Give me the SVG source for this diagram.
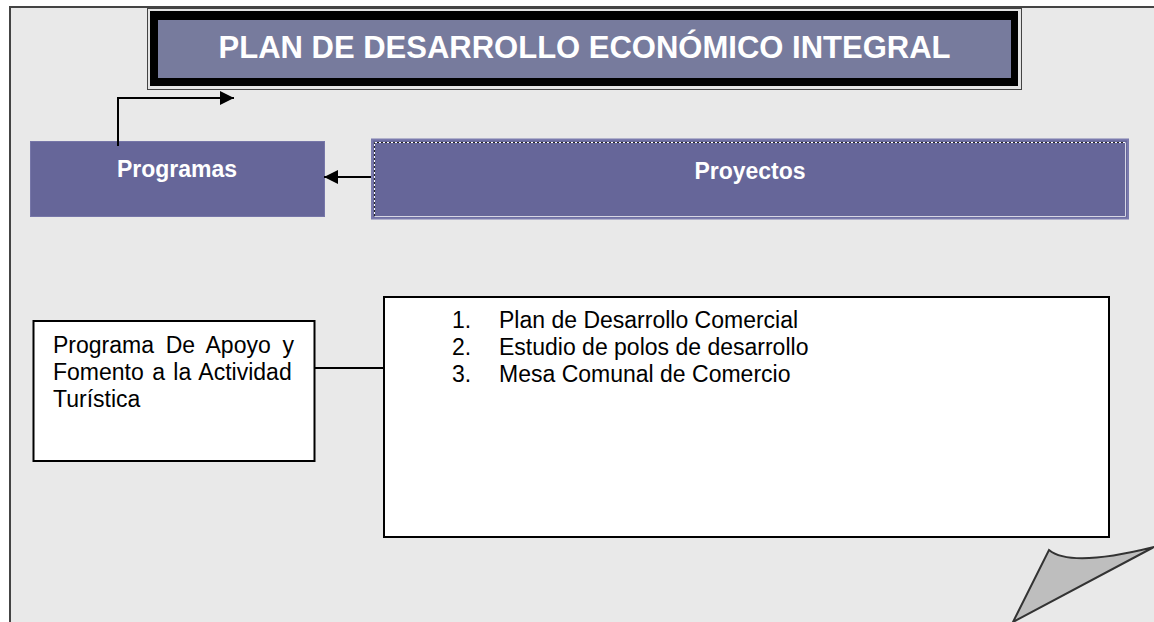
<svg xmlns="http://www.w3.org/2000/svg" width="1154" height="622" viewBox="0 0 1154 622">
  <defs>
    <style>
      .t { font-family: "Liberation Sans", Arial, sans-serif; }
      .wb { fill: #ffffff; font-weight: bold; }
      .body { fill: #000000; font-size: 23px; }
      .box { fill: #ffffff; stroke: #000000; stroke-width: 2; }
      .hdr { fill: #666699; }
      .conn { fill: none; stroke: #000000; stroke-width: 2; }
    </style>
    <marker id="ah" markerWidth="14" markerHeight="14" refX="14" refY="7" orient="auto" markerUnits="userSpaceOnUse">
      <path d="M0,0 L14,7 L0,14 Z" fill="#000000"/>
    </marker>
  </defs>

  <rect width="1154" height="622" fill="#ffffff"/>

  <!-- page -->
  <g id="page">
    <path d="M10,7 H1154 V622 H10 Z" fill="#e9e9e9"/>
    <path d="M10,622 V7 H1154" fill="none" stroke="#444444" stroke-width="2"/>
    <path d="M1049,550 C1066,564 1110,558 1154,547 L1013,622 Z" fill="#bebebe" stroke="#333333" stroke-width="2" stroke-linejoin="miter"/>
  </g>

  <!-- title -->
  <g id="title">
    <rect x="147.5" y="8.5" width="874" height="81" fill="#e4e4e4" stroke="#444444" stroke-width="1"/>
    <rect x="150" y="11" width="868" height="75" fill="#000000"/>
    <rect x="158" y="20" width="853" height="58" fill="#777b9d"/>
    <text class="t wb" x="584.5" y="58" font-size="31" text-anchor="middle">PLAN DE DESARROLLO ECONÓMICO INTEGRAL</text>
  </g>

  <!-- Programas header -->
  <g id="programas">
    <rect class="hdr" x="30.5" y="141.5" width="294" height="75" stroke="#7676a8" stroke-width="1"/>
    <text class="t wb" x="177" y="177" font-size="23" text-anchor="middle">Programas</text>
  </g>

  <!-- Proyectos header -->
  <g id="proyectos">
    <rect class="hdr" x="372" y="139.5" width="756" height="79" stroke="#7a7aad" stroke-width="2"/>
    <path d="M374.5,216 V142.5 H1125" fill="none" stroke="#ffffff" stroke-width="1"/>
    <path d="M374.5,216 V142.5 H1125" fill="none" stroke="#222222" stroke-width="1" stroke-dasharray="2,2"/>
    <path d="M1125.5,142.5 V216.5 H374.5" fill="none" stroke="#d6d6e4" stroke-width="1"/>
    <text class="t wb" x="750" y="179" font-size="23" text-anchor="middle">Proyectos</text>
  </g>

  <!-- Programa box -->
  <g id="programa-turistica">
    <rect class="box" x="33.5" y="321" width="281" height="140"/>
    <text class="t body" x="53" y="353" word-spacing="5.3">Programa De Apoyo y</text>
    <text class="t body" x="53" y="380" word-spacing="2">Fomento a la Actividad</text>
    <text class="t body" x="53" y="407">Turística</text>
  </g>

  <!-- Projects list box -->
  <g id="lista-proyectos">
    <rect class="box" x="384" y="297" width="725" height="240"/>
    <text class="t body" x="452" y="328">1.</text>
    <text class="t body" x="499" y="328">Plan de Desarrollo Comercial</text>
    <text class="t body" x="452" y="355">2.</text>
    <text class="t body" x="499" y="355">Estudio de polos de desarrollo</text>
    <text class="t body" x="452" y="382">3.</text>
    <text class="t body" x="499" y="382">Mesa Comunal de Comercio</text>
  </g>

  <!-- connectors -->
  <g id="connectors">
    <path class="conn" d="M371,177 H324" marker-end="url(#ah)"/>
    <path class="conn" d="M118,146 V98 H234" marker-end="url(#ah)"/>
    <path class="conn" d="M315,368 H384" stroke-width="1.5"/>
  </g>
</svg>
